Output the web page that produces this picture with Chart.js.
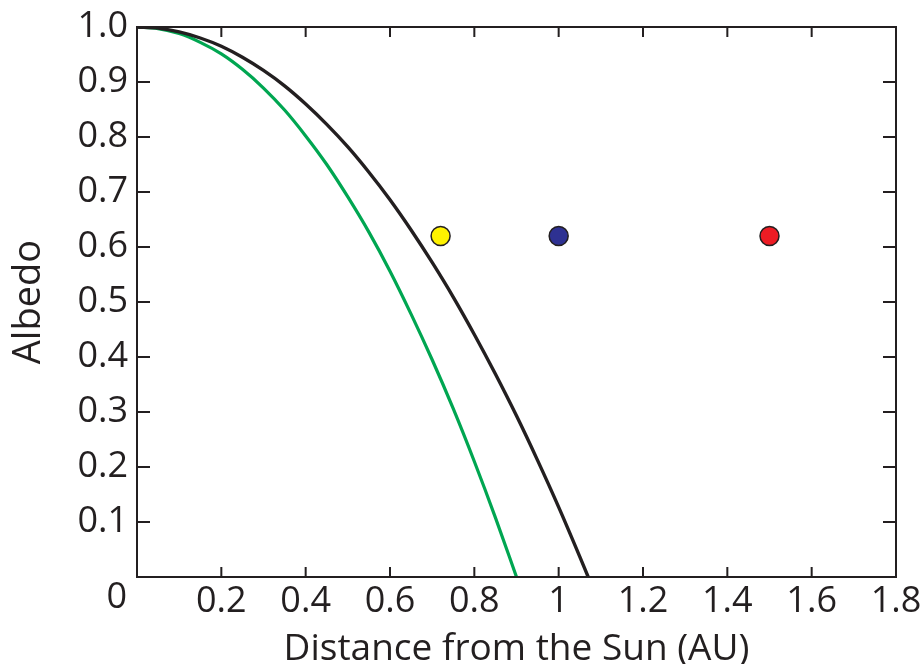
<!DOCTYPE html>
<html>
<head>
<meta charset="utf-8">
<script src="https://cdn.jsdelivr.net/npm/chart.js@4/dist/chart.umd.min.js"></script>
<style>
  html, body { margin: 0; padding: 0; background: #fff; }
  #wrap { width: 921px; height: 664px; }
</style>
</head>
<body>
<div id="wrap"><canvas id="albedo-chart"></canvas></div>
<script>
// Distance from the Sun (AU) sampled along each curve
const blackX = [0, 0.05, 0.1, 0.15, 0.2, 0.25, 0.3, 0.35, 0.4, 0.45, 0.5, 0.55, 0.6, 0.65, 0.7, 0.75, 0.8, 0.85, 0.9, 0.95, 1.0, 1.05, 1.07];
const blackY = [1, 0.998, 0.991, 0.980, 0.965, 0.945, 0.921, 0.893, 0.860, 0.823, 0.782, 0.736, 0.686, 0.631, 0.572, 0.509, 0.441, 0.369, 0.293, 0.212, 0.127, 0.037, 0];

const greenX = [0, 0.05, 0.1, 0.15, 0.2, 0.25, 0.3, 0.35, 0.4, 0.45, 0.5, 0.55, 0.6, 0.65, 0.7, 0.75, 0.8, 0.85, 0.9];
const greenY = [1, 0.997, 0.988, 0.972, 0.951, 0.923, 0.889, 0.849, 0.802, 0.750, 0.691, 0.627, 0.556, 0.478, 0.395, 0.306, 0.210, 0.108, 0];

// planets: Venus, Earth, Mars
const planetX = [0.72, 1.0, 1.5];
const planetY = [0.62, 0.62, 0.62];
const planetColors = ['#fff200', '#2e3192', '#ed1c24'];

const xTicks = [0, 0.2, 0.4, 0.6, 0.8, 1, 1.2, 1.4, 1.6, 1.8];
const yTicks = [0, 0.1, 0.2, 0.3, 0.4, 0.5, 0.6, 0.7, 0.8, 0.9, 1.0];

const ink = '#231f20';
const fontFamily = "'Open Sans', sans-serif";
const tickSize = 36;

const toPoints = (xs, ys) => xs.map((x, i) => ({ x: x, y: ys[i] }));

// frame with inward ticks on all four sides, plus the lone "0" at the origin
const framePlugin = {
    id: 'frame',
    afterDraw(chart) {
        const { ctx, chartArea: a, scales } = chart;
        ctx.save();
        ctx.strokeStyle = ink;
        ctx.lineWidth = 2;
        ctx.strokeRect(a.left, a.top, a.right - a.left, a.bottom - a.top);
        ctx.beginPath();
        xTicks.slice(1, -1).forEach(v => {
            const px = scales.x.getPixelForValue(v);
            ctx.moveTo(px, a.bottom); ctx.lineTo(px, a.bottom - 10);
            ctx.moveTo(px, a.top); ctx.lineTo(px, a.top + 10);
        });
        yTicks.slice(1, -1).forEach(v => {
            const py = scales.y.getPixelForValue(v);
            ctx.moveTo(a.left, py); ctx.lineTo(a.left + 13, py);
            ctx.moveTo(a.right, py); ctx.lineTo(a.right - 13, py);
        });
        ctx.stroke();

        ctx.fillStyle = ink;
        ctx.font = tickSize + 'px ' + fontFamily;
        ctx.textAlign = 'right';
        ctx.textBaseline = 'middle';
        ctx.fillText('0', a.left - 10, a.bottom + 21);
        ctx.restore();
    }
};

new Chart(document.getElementById('albedo-chart'), {
    type: 'scatter',
    data: {
        datasets: [
            {
                data: toPoints(blackX, blackY),
                showLine: true,
                borderColor: ink,
                borderWidth: 3.4,
                pointRadius: 0,
                cubicInterpolationMode: 'monotone'
            },
            {
                data: toPoints(greenX, greenY),
                showLine: true,
                borderColor: '#00a651',
                borderWidth: 3.2,
                pointRadius: 0,
                cubicInterpolationMode: 'monotone'
            },
            {
                data: toPoints(planetX, planetY),
                showLine: false,
                pointRadius: 9.5,
                pointBackgroundColor: planetColors,
                pointBorderColor: ink,
                pointBorderWidth: 1.5
            }
        ]
    },
    options: {
        responsive: true,
        maintainAspectRatio: false,
        animation: false,
        layout: { padding: { top: 27, right: 25, left: 0, bottom: 0 } },
        plugins: {
            legend: { display: false },
            tooltip: { enabled: false }
        },
        scales: {
            x: {
                type: 'linear',
                min: 0,
                max: 1.8,
                grid: { display: false, drawTicks: false },
                border: { display: false },
                afterFit: (scale) => {
                    scale.height = 87;
                    scale.paddingLeft = 0;
                    scale.paddingRight = 0;
                },
                afterBuildTicks: (scale) => { scale.ticks = xTicks.map(v => ({ value: v })); },
                ticks: {
                    color: ink,
                    padding: 3,
                    maxRotation: 0,
                    font: { family: fontFamily, size: tickSize },
                    callback: (v) => v === 0 ? '' : String(v)
                },
                title: {
                    display: true,
                    text: 'Distance from the Sun (AU)',
                    color: ink,
                    padding: { top: 0, bottom: -8 },
                    font: { family: fontFamily, size: 37 }
                }
            },
            y: {
                type: 'linear',
                min: 0,
                max: 1,
                grid: { display: false, drawTicks: false },
                border: { display: false },
                afterFit: (scale) => {
                    scale.width = 137;
                    scale.paddingTop = 0;
                    scale.paddingBottom = 0;
                },
                afterBuildTicks: (scale) => { scale.ticks = yTicks.map(v => ({ value: v })); },
                ticks: {
                    color: ink,
                    padding: 9,
                    font: { family: fontFamily, size: tickSize },
                    callback: (v) => v === 0 ? '' : v.toFixed(1)
                },
                title: {
                    display: true,
                    text: 'Albedo',
                    color: ink,
                    padding: { top: 6, bottom: 0 },
                    font: { family: fontFamily, size: 38 }
                }
            }
        }
    },
    plugins: [framePlugin]
});
</script>
</body>
</html>
